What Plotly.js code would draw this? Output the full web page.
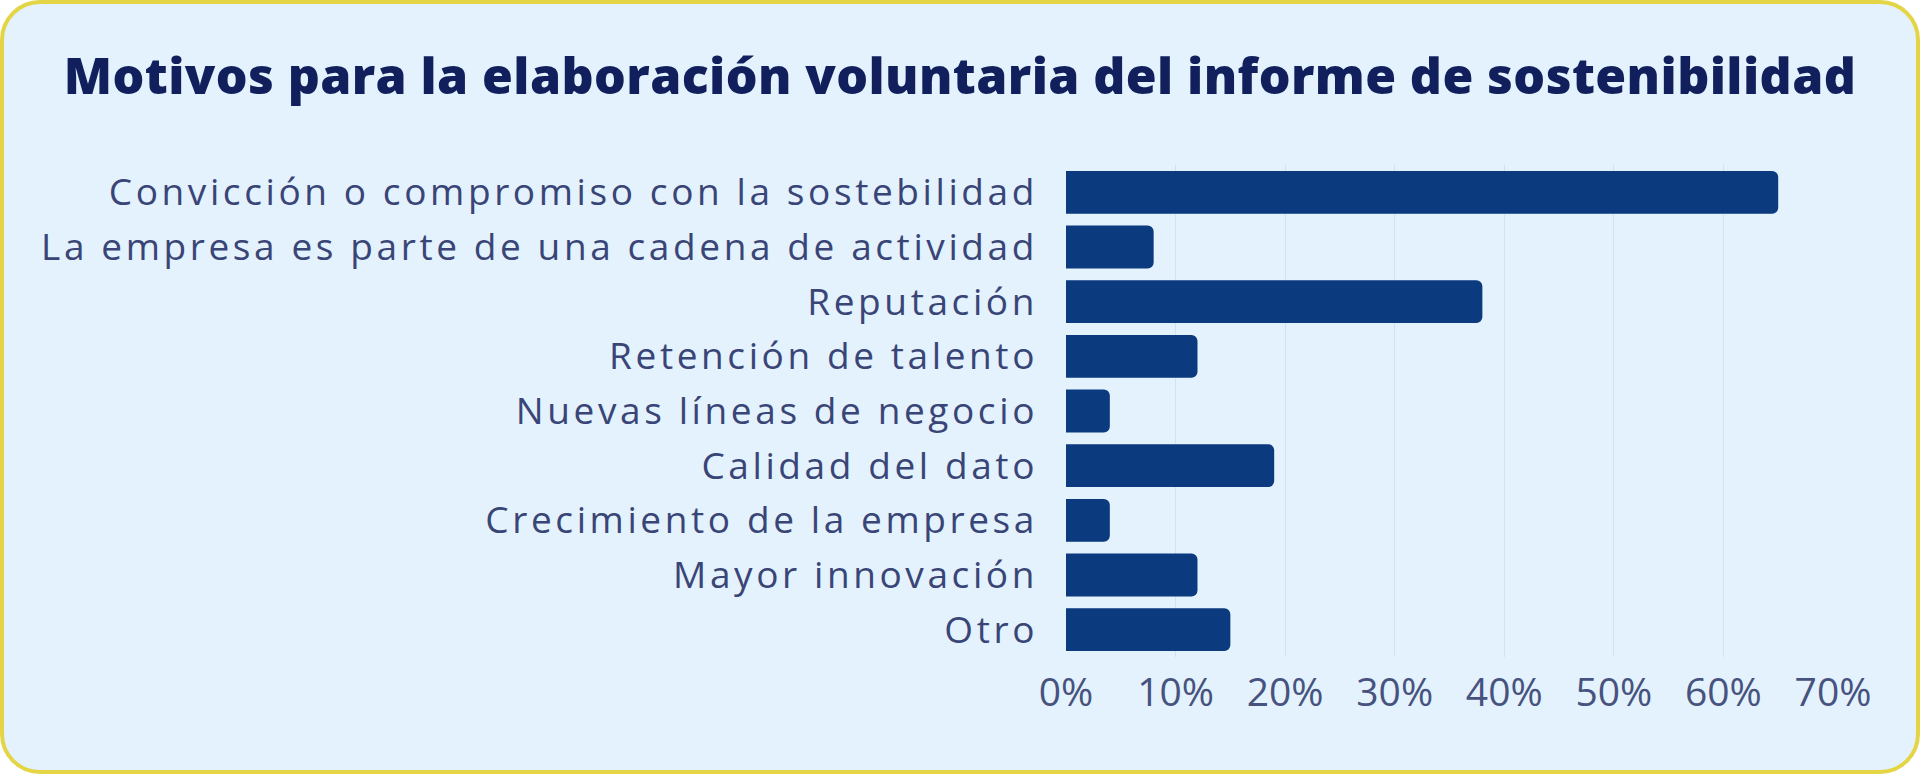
<!DOCTYPE html>
<html>
<head>
<meta charset="utf-8">
<script src="https://cdn.plot.ly/plotly-3.0.1.min.js"></script>
<style>
  html, body { margin: 0; padding: 0; background: #ffffff; }
  #card {
    position: absolute; left: 0; top: 0;
    width: 1920px; height: 774px; box-sizing: border-box;
    border: 4px solid #e4d547; border-radius: 40px;
    background: #e3f2fc; overflow: hidden;
  }
  #gd { position: absolute; left: -4px; top: -4px; width: 1920px; height: 774px; }
  /* the original lettering is wide, spread the glyphs a bit */
  #gd .ytick text { letter-spacing: 3.6px; }
  #gd .gtitle { letter-spacing: 0.4px; }
</style>
</head>
<body>
<div id="card"><div id="gd"></div></div>
<script>
// motivos (de arriba abajo) y porcentaje de empresas
const motivos = [
    'Convicción o compromiso con la sostebilidad',
    'La empresa es parte de una cadena de actividad',
    'Reputación',
    'Retención de talento',
    'Nuevas líneas de negocio',
    'Calidad del dato',
    'Crecimiento de la empresa',
    'Mayor innovación',
    'Otro'
];
const porcentajes = [65, 8, 38, 12, 4, 19, 4, 12, 15];
const ticksX = [0, 10, 20, 30, 40, 50, 60, 70];
const ticksXText = ['0%', '10%', '20%', '30%', '40%', '50%', '60%', '70%'];

let trace = {
    type: 'bar',
    orientation: 'h',
    y: motivos,
    x: porcentajes,
    marker: {
        color: '#0b3a7e',
        cornerradius: 6
    },
    hoverinfo: 'x+y'
};

let layout = {
    width: 1920,
    height: 774,
    paper_bgcolor: 'rgba(0,0,0,0)',
    plot_bgcolor: 'rgba(0,0,0,0)',
    font: {family: 'Open Sans, sans-serif', color: '#3a4577'},
    title: {
        text: 'Motivos para la elaboración voluntaria del informe de sostenibilidad',
        font: {family: 'Open Sans, sans-serif', size: 50, color: '#11205c', weight: 800},
        x: 0.5,
        xanchor: 'center',
        xref: 'container',
        y: 1 - 76 / 774,
        yanchor: 'middle',
        yref: 'container'
    },
    margin: {l: 1066, r: 87, t: 165, b: 117, pad: 0},
    bargap: 0.215,
    showlegend: false,
    xaxis: {
        range: [0, 70],
        tickvals: ticksX,
        ticktext: ticksXText,
        showgrid: true,
        gridcolor: '#d2e2ee',
        gridwidth: 1,
        zeroline: false,
        showline: false,
        ticks: '',
        ticklabelstandoff: 9,
        tickfont: {size: 39, color: '#47527f'}
    },
    yaxis: {
        autorange: 'reversed',
        showgrid: false,
        zeroline: false,
        showline: false,
        ticks: '',
        ticklabelstandoff: 27,
        tickfont: {size: 37, color: '#3a4577'}
    }
};

Plotly.newPlot('gd', [trace], layout, {displayModeBar: false});
</script>
</body>
</html>
